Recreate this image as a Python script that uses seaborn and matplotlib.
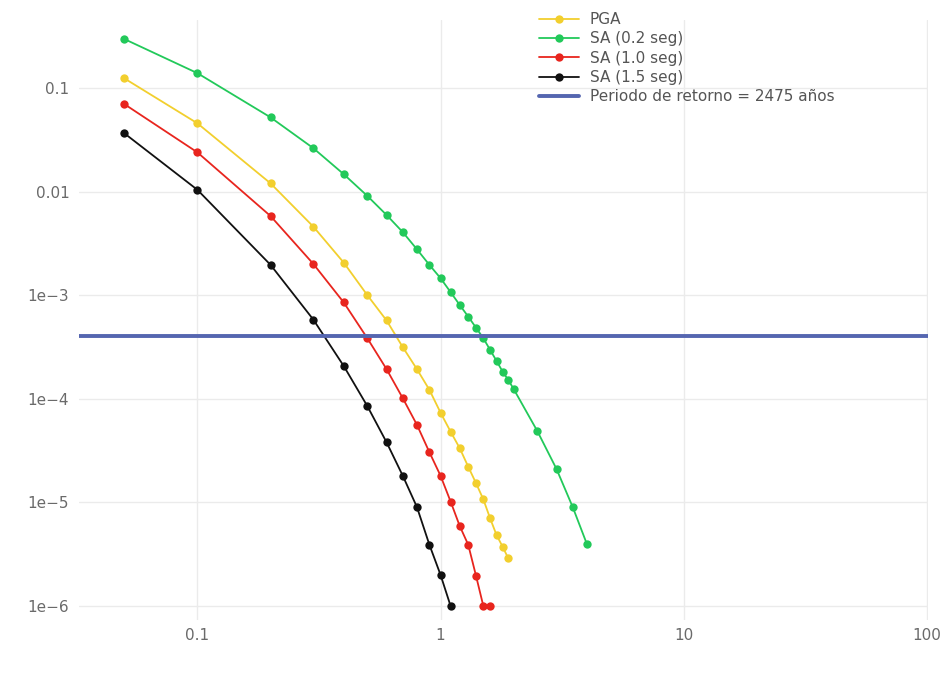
import matplotlib
matplotlib.use("Agg")
import matplotlib.pyplot as plt
import matplotlib.ticker as mticker
import numpy as np
import pandas as pd
import seaborn as sns

# Periodos / intensidades (g) y tasas anuales de excedencia
x_pga = [0.05, 0.1, 0.2, 0.3, 0.4, 0.5, 0.6, 0.7, 0.8, 0.9, 1.0,
         1.1, 1.2, 1.3, 1.4, 1.5, 1.6, 1.7, 1.8, 1.9]
y_pga = [0.124, 0.0456, 0.0120, 0.00458, 0.00206, 0.00100, 5.7e-4, 3.14e-4,
         1.93e-4, 1.22e-4, 7.35e-5, 4.82e-5, 3.33e-5, 2.21e-5, 1.53e-5,
         1.07e-5, 7.0e-6, 4.84e-6, 3.74e-6, 2.88e-6]

x_sa02 = [0.05, 0.1, 0.2, 0.3, 0.4, 0.5, 0.6, 0.7, 0.8, 0.9, 1.0,
          1.1, 1.2, 1.3, 1.4, 1.5, 1.6, 1.7, 1.8, 1.9, 2.0, 2.5, 3.0, 3.5, 4.0]
y_sa02 = [0.297, 0.139, 0.052, 0.0262, 0.0147, 0.00908, 0.00594, 0.00405,
          0.00277, 0.00196, 0.00146, 0.00107, 8.03e-4, 6.21e-4, 4.85e-4,
          3.84e-4, 2.96e-4, 2.32e-4, 1.83e-4, 1.52e-4, 1.24e-4, 4.89e-5,
          2.10e-5, 8.97e-6, 3.96e-6]

x_sa10 = [0.05, 0.1, 0.2, 0.3, 0.4, 0.5, 0.6, 0.7, 0.8, 0.9, 1.0,
          1.1, 1.2, 1.3, 1.4, 1.5, 1.6]
y_sa10 = [0.070, 0.0239, 0.0058, 0.0020, 8.5e-4, 3.84e-4, 1.93e-4, 1.01e-4,
          5.6e-5, 3.05e-5, 1.81e-5, 1.02e-5, 5.9e-6, 3.9e-6, 1.95e-6,
          1.0e-6, 1.0e-6]

x_sa15 = [0.05, 0.1, 0.2, 0.3, 0.4, 0.5, 0.6, 0.7, 0.8, 0.9, 1.0, 1.1]
y_sa15 = [0.0366, 0.0104, 0.00196, 5.8e-4, 2.07e-4, 8.5e-5, 3.8e-5, 1.8e-5,
          9.0e-6, 3.9e-6, 2.0e-6, 1.0e-6]

periodo_retorno = 2475

series = ["PGA", "SA (0.2 seg)", "SA (1.0 seg)", "SA (1.5 seg)"]
colores = ["#F2CF2E", "#22C95A", "#E8251E", "#111111"]

df = pd.concat([
    pd.DataFrame({"x": x_pga, "y": y_pga, "serie": series[0]}),
    pd.DataFrame({"x": x_sa02, "y": y_sa02, "serie": series[1]}),
    pd.DataFrame({"x": x_sa10, "y": y_sa10, "serie": series[2]}),
    pd.DataFrame({"x": x_sa15, "y": y_sa15, "serie": series[3]}),
])

sns.set_style("white")
plt.rcParams["font.family"] = ["DejaVu Sans"]

fig = plt.figure(figsize=(9.52, 6.75), dpi=100)
ax = fig.add_axes([79 / 952, 1 - 620 / 675, 849 / 952, 600 / 675])

sns.lineplot(data=df, x="x", y="y", hue="serie", hue_order=series,
             palette=dict(zip(series, colores)), marker="o", markersize=6,
             markeredgewidth=0, linewidth=1.3, sort=False, estimator=None,
             ax=ax)

ax.axhline(1 / periodo_retorno, color="#5566B0", linewidth=2.8,
           label=f"Periodo de retorno = {periodo_retorno} años")

ax.set_xscale("log")
ax.set_yscale("log")
ax.set_xlim(10 ** -1.487, 10 ** 2.005)
ax.set_ylim(10 ** -6.135, 10 ** -0.344)

ax.xaxis.set_major_locator(mticker.FixedLocator([0.1, 1, 10, 100]))
ax.xaxis.set_major_formatter(mticker.FixedFormatter(["0.1", "1", "10", "100"]))
ax.xaxis.set_minor_locator(mticker.NullLocator())
yt = [0.1, 0.01, 1e-3, 1e-4, 1e-5, 1e-6]
ax.yaxis.set_major_locator(mticker.FixedLocator(yt))
ax.yaxis.set_major_formatter(mticker.FixedFormatter(
    ["0.1", "0.01", "1e\u22123", "1e\u22124", "1e\u22125", "1e\u22126"]))
ax.yaxis.set_minor_locator(mticker.NullLocator())

ax.grid(True, color="#EBEBEB", linewidth=1)
ax.set_axisbelow(True)
for s in ax.spines.values():
    s.set_visible(False)
ax.tick_params(length=0, labelsize=11, colors="#6A6A6A")
ax.tick_params(axis="y", pad=7)
ax.tick_params(axis="x", pad=6)
ax.set_xlabel("")
ax.set_ylabel("")

handles, labels = ax.get_legend_handles_labels()
leg = ax.legend(handles, labels, loc="upper left",
                bbox_to_anchor=(530 / 952, 1 - 3 / 675),
                bbox_transform=fig.transFigure, frameon=False,
                fontsize=11, labelcolor="#555555", handlelength=2.6,
                handletextpad=0.7, labelspacing=0.28, borderpad=0.1)

fig.savefig("out.png", dpi=100)
